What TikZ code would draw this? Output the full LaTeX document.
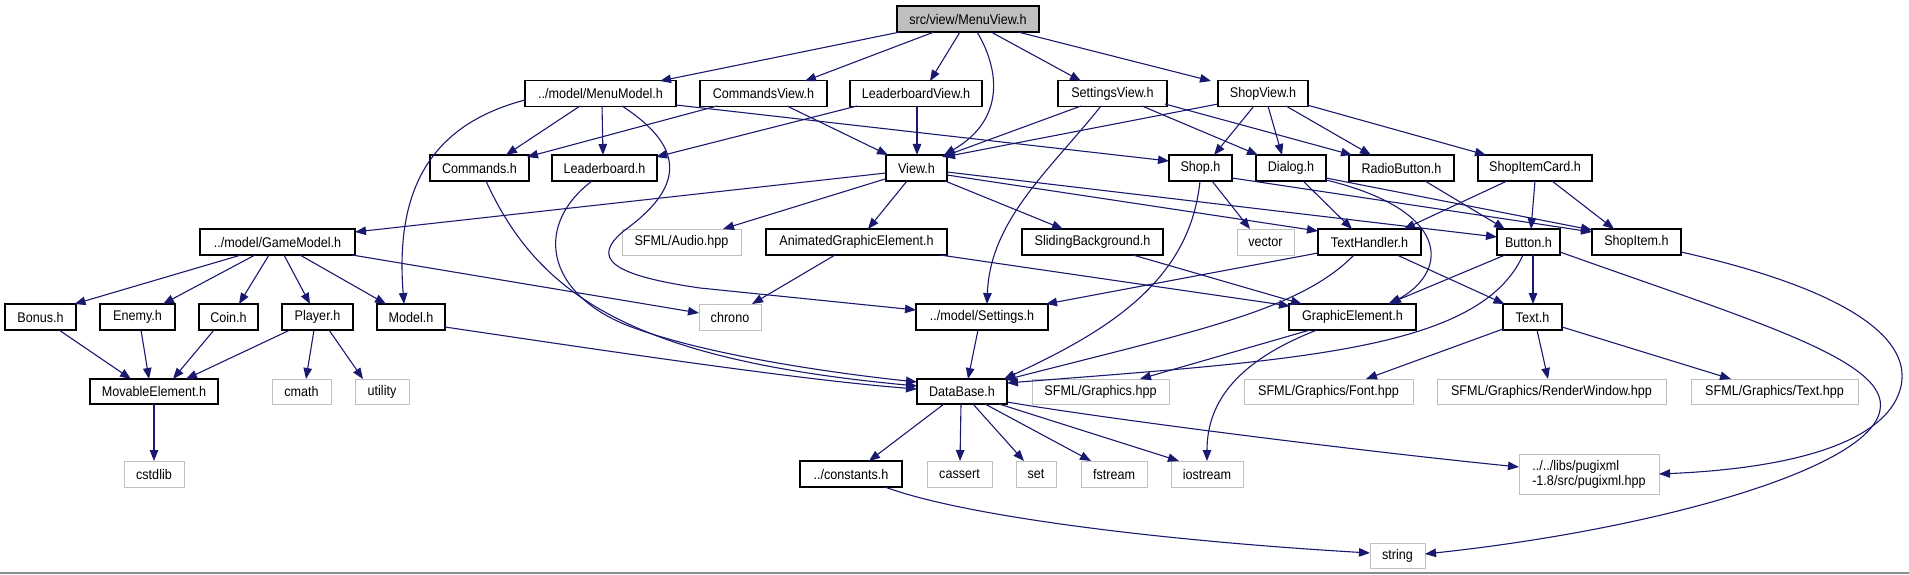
\documentclass[tikz,border=0pt]{standalone}
\usepackage{fontspec}
\setmainfont{Liberation Sans}[FakeStretch=0.9]
\usetikzlibrary{arrows.meta,calc}
\definecolor{edgec}{HTML}{191970}
\definecolor{grayb}{HTML}{BFBFBF}
\definecolor{botc}{HTML}{8C8C8C}
\begin{document}
\begin{tikzpicture}[x=1pt,y=-1pt,
  bx/.style={draw=black, line width=1.2pt, fill=white, minimum height=26pt, inner sep=0pt, font=\fontsize{14}{15}\selectfont},
  gx/.style={bx, draw=grayb, line width=1pt},
  e/.style={draw=edgec, line width=1.1pt, -{Triangle[length=11pt,width=8.5pt]}}]
\useasboundingbox (0,0) rectangle (1909,575);
\draw[line width=1.5pt, botc] (0,573) -- (1909,573);
% nodes
\node[bx,fill=grayb,minimum width=142pt] (MenuView) at (968,19) {src/view/MenuView.h};
\node[bx,minimum width=151pt] (MenuModel) at (600.5,93.5) {../model/MenuModel.h};
\node[bx,minimum width=127pt] (CommandsView) at (763.5,93.5) {CommandsView.h};
\node[bx,minimum width=132pt] (LeaderboardView) at (916,93.5) {LeaderboardView.h};
\node[bx,minimum width=109pt] (SettingsView) at (1112.5,93.5) {SettingsView.h};
\node[bx,minimum width=90pt] (ShopView) at (1263,93.5) {ShopView.h};
\node[bx,minimum width=99pt] (Commands) at (479.5,168) {Commands.h};
\node[bx,minimum width=105pt] (Leaderboard) at (604.5,168) {Leaderboard.h};
\node[bx,minimum width=61pt] (View) at (916.5,168) {View.h};
\node[bx,minimum width=63pt] (Shop) at (1200.5,168) {Shop.h};
\node[bx,minimum width=70pt] (Dialog) at (1291,168) {Dialog.h};
\node[bx,minimum width=105pt] (RadioButton) at (1401.5,168) {RadioButton.h};
\node[bx,minimum width=114pt] (ShopItemCard) at (1535,168) {ShopItemCard.h};
\node[bx,minimum width=155pt] (GameModel) at (277.5,242) {../model/GameModel.h};
\node[gx,minimum width=119pt] (Audio) at (681.5,242) {SFML/Audio.hpp};
\node[bx,minimum width=181pt] (AGE) at (856.5,242) {AnimatedGraphicElement.h};
\node[bx,minimum width=141pt] (Sliding) at (1092.5,242) {SlidingBackground.h};
\node[gx,minimum width=57pt] (vector) at (1265.5,242) {vector};
\node[bx,minimum width=103pt] (TextHandler) at (1369.5,242) {TextHandler.h};
\node[bx,minimum width=63pt] (Button) at (1528.5,242) {Button.h};
\node[bx,minimum width=89pt] (ShopItem) at (1636.5,242) {ShopItem.h};
\node[bx,minimum width=71pt] (Bonus) at (40.5,317) {Bonus.h};
\node[bx,minimum width=75pt] (Enemy) at (137.5,317) {Enemy.h};
\node[bx,minimum width=59pt] (Coin) at (228.5,317) {Coin.h};
\node[bx,minimum width=71pt] (Player) at (317.5,317) {Player.h};
\node[bx,minimum width=68pt] (Model) at (411,317) {Model.h};
\node[gx,minimum width=62pt] (chrono) at (730,317) {chrono};
\node[bx,minimum width=132pt] (Settings) at (982,317) {../model/Settings.h};
\node[bx,minimum width=127pt] (GraphicElement) at (1352.5,317) {GraphicElement.h};
\node[bx,minimum width=59pt] (Text) at (1532.5,317) {Text.h};
\node[bx,minimum width=128pt,minimum height=25pt] (Movable) at (154,391.5) {MovableElement.h};
\node[gx,minimum width=59pt,minimum height=25pt] (cmath) at (301.5,391.5) {cmath};
\node[gx,minimum width=54pt,minimum height=25pt] (utility) at (382,391.5) {utility};
\node[bx,minimum width=90pt,minimum height=25pt] (DataBase) at (962,391.5) {DataBase.h};
\node[gx,minimum width=137pt,minimum height=25pt] (SFMLGraphics) at (1100.5,391.5) {SFML/Graphics.hpp};
\node[gx,minimum width=169pt,minimum height=25pt] (Font) at (1328.5,391.5) {SFML/Graphics/Font.hpp};
\node[gx,minimum width=229pt,minimum height=25pt] (RenderWindow) at (1551.5,391.5) {SFML/Graphics/RenderWindow.hpp};
\node[gx,minimum width=167pt,minimum height=25pt] (TextHpp) at (1774.5,391.5) {SFML/Graphics/Text.hpp};
\node[gx,minimum width=60pt] (cstdlib) at (154,474) {cstdlib};
\node[bx,minimum width=102pt] (constants) at (851,474) {../constants.h};
\node[gx,minimum width=65pt] (cassert) at (959.5,474) {cassert};
\node[gx,minimum width=40pt] (nset) at (1036,474) {set};
\node[gx,minimum width=66pt] (fstream) at (1114,474) {fstream};
\node[gx,minimum width=72pt] (iostream) at (1207,474) {iostream};
\node[gx,minimum width=140pt,minimum height=40pt,align=left] (pugixml) at (1589,474) {../../libs/pugixml\\-1.8/src/pugixml.hpp};
\node[gx,minimum width=55pt,minimum height=25pt] (string) at (1397.5,555.5) {string};
% edges from MenuView
\draw[e] ($(MenuView)+(-68,13)$) -- ($(MenuModel)+(59.5,-12.5)$);
\draw[e] ($(MenuView)+(-34,13)$) -- ($(CommandsView)+(41.5,-12.5)$);
\draw[e] ($(MenuView)+(-8,13)$) -- ($(LeaderboardView)+(14,-12.5)$);
\draw[e] ($(MenuView)+(9,13)$) .. controls (1000,70) and (1005,120) .. ($(View)+(27.5,-13)$);
\draw[e] ($(MenuView)+(23,13)$) -- ($(SettingsView)+(-31.5,-12.5)$);
\draw[e] ($(MenuView)+(50,13)$) -- ($(ShopView)+(-52,-12.5)$);
% MenuModel
\draw[e] ($(MenuModel)+(-20.5,12.5)$) -- ($(Commands)+(26.5,-13)$);
\draw[e] ($(MenuModel)+(1.5,12.5)$) -- ($(Leaderboard)+(-1.5,-13)$);
\draw[e] ($(MenuModel)+(-75.5,6.5)$) .. controls (430,125) and (395,190) .. ($(Model)+(-7,-13)$);
\draw[e] ($(MenuModel)+(21.5,12.5)$) .. controls (690,150) and (680,190) .. (625,230) .. controls (590,258) and (610,275) .. (700,288) -- ($(Settings)+(-66,-7)$);
\draw[e] ($(MenuModel)+(75.5,11.5)$) -- ($(Shop)+(-31.5,-7)$);
% CommandsView, LeaderboardView
\draw[e] ($(CommandsView)+(-46.5,12.5)$) -- ($(Commands)+(47.5,-11)$);
\draw[e] ($(CommandsView)+(23.5,12.5)$) -- ($(View)+(-28.5,-13)$);
\draw[e] ($(LeaderboardView)+(-59,12.5)$) -- ($(Leaderboard)+(51.5,-11)$);
\draw[e] ($(LeaderboardView)+(1,12.5)$) -- ($(View)+(0.5,-13)$);
% SettingsView
\draw[e] ($(SettingsView)+(-31.5,12.5)$) -- ($(View)+(25.5,-11)$);
\draw[e] ($(SettingsView)+(-11.5,12.5)$) .. controls (1050,170) and (990,220) .. ($(Settings)+(5,-13)$);
\draw[e] ($(SettingsView)+(29.5,12.5)$) -- ($(Dialog)+(-33,-13)$);
\draw[e] ($(SettingsView)+(52.5,10.5)$) -- ($(RadioButton)+(-49.5,-13)$);
% ShopView
\draw[e] ($(ShopView)+(-45,10.5)$) -- ($(View)+(27.5,-11)$);
\draw[e] ($(ShopView)+(-9,12.5)$) -- ($(Shop)+(13.5,-13)$);
\draw[e] ($(ShopView)+(5,12.5)$) -- ($(Dialog)+(-9,-13)$);
\draw[e] ($(ShopView)+(23,12.5)$) -- ($(RadioButton)+(-30.5,-13)$);
\draw[e] ($(ShopView)+(44,11.5)$) -- ($(ShopItemCard)+(-49,-13)$);
% to DataBase from left
\draw[e] ($(Commands)+(6.5,13)$) .. controls (540,300) and (640,360) .. ($(DataBase)+(-45,-5.5)$);
\draw[e] ($(Leaderboard)+(-12.5,13)$) .. controls (530,228) and (548,300) .. (640,330) .. controls (720,358) and (850,375) .. ($(DataBase)+(-45,-9.5)$);
\draw[e] ($(Model)+(34,10)$) .. controls (600,350) and (800,380) .. ($(DataBase)+(-45,-2.5)$);
% View.h
\draw[e] ($(View)+(-30.5,5)$) -- ($(GameModel)+(77.5,-10)$);
\draw[e] ($(View)+(-31.5,11)$) -- ($(Audio)+(41.5,-13)$);
\draw[e] ($(View)+(-9.5,13)$) -- ($(AGE)+(11.5,-13)$);
\draw[e] ($(View)+(28.5,13)$) -- ($(Sliding)+(-29.5,-13)$);
\draw[e] ($(View)+(30.5,7)$) -- ($(TextHandler)+(-51.5,-11)$);
\draw[e] ($(View)+(30.5,4)$) -- ($(Button)+(-31.5,-5)$);
% Shop.h
\draw[e] ($(Shop)+(11.5,13)$) -- ($(vector)+(-15.5,-13)$);
\draw[e] ($(Shop)+(-0.5,13)$) .. controls (1190,280) and (1110,330) .. ($(DataBase)+(42,-12.5)$);
\draw[e] ($(Shop)+(31.5,10)$) -- ($(ShopItem)+(-44.5,-10)$);
% Dialog
\draw[e] ($(Dialog)+(12,13)$) -- ($(TextHandler)+(-17.5,-13)$);
\draw[e] ($(Dialog)+(35,12)$) .. controls (1450,210) and (1450,270) .. ($(GraphicElement)+(37.5,-13)$);
\draw[e] ($(Dialog)+(35,10)$) -- ($(ShopItem)+(-44.5,-12)$);
% RadioButton, ShopItemCard
\draw[e] ($(RadioButton)+(23.5,13)$) -- ($(Button)+(-23.5,-13)$);
\draw[e] ($(ShopItemCard)+(-28,13)$) -- ($(TextHandler)+(34.5,-13)$);
\draw[e] ($(ShopItemCard)+(0,13)$) -- ($(Button)+(2.5,-13)$);
\draw[e] ($(ShopItemCard)+(17,13)$) -- ($(ShopItem)+(-22.5,-13)$);
% GameModel
\draw[e] ($(GameModel)+(-36.5,13)$) -- ($(Bonus)+(34,-13)$);
\draw[e] ($(GameModel)+(-22.5,13)$) -- ($(Enemy)+(25.5,-13)$);
\draw[e] ($(GameModel)+(-8.5,13)$) -- ($(Coin)+(10.5,-13)$);
\draw[e] ($(GameModel)+(6.5,13)$) -- ($(Player)+(-7.5,-13)$);
\draw[e] ($(GameModel)+(22.5,13)$) -- ($(Model)+(-25,-13)$);
\draw[e] ($(GameModel)+(74.5,13)$) -- ($(chrono)+(-31,-4)$);
% AGE, Sliding
\draw[e] ($(AGE)+(-21.5,13)$) -- ($(chrono)+(22,-13)$);
\draw[e] ($(AGE)+(83.5,13)$) -- ($(GraphicElement)+(-62.5,-11)$);
\draw[e] ($(Sliding)+(40.5,13)$) -- ($(GraphicElement)+(-50.5,-13)$);
% TextHandler
\draw[e] ($(TextHandler)+(-51.5,11)$) -- ($(Settings)+(64,-13)$);
\draw[e] ($(TextHandler)+(-15.5,13)$) .. controls (1300,310) and (1200,330) .. ($(DataBase)+(43,-11.5)$);
\draw[e] ($(TextHandler)+(27.5,13)$) -- ($(Text)+(-28,-13)$);
% Button
\draw[e] ($(Button)+(-23.5,13)$) -- ($(GraphicElement)+(35.5,-13)$);
\draw[e] ($(Button)+(-5.5,13)$) .. controls (1480,350) and (1300,360) .. ($(DataBase)+(45,-8.5)$);
\draw[e] ($(Button)+(4.5,13)$) -- ($(Text)+(0.5,-13)$);
\draw[e] ($(Button)+(31.5,10)$) .. controls (1750,320) and (1890,360) .. (1880,410) .. controls (1870,470) and (1650,530) .. ($(string)+(27.5,-1.5)$);
% ShopItem
\draw[e] ($(ShopItem)+(44.5,10)$) .. controls (1850,290) and (1915,340) .. (1900,390) .. controls (1885,440) and (1800,468) .. ($(pugixml)+(70,0)$);
% GraphicElement
\draw[e] ($(GraphicElement)+(-42.5,13)$) -- ($(SFMLGraphics)+(39.5,-12.5)$);
\draw[e] ($(GraphicElement)+(-35.5,13)$) .. controls (1240,360) and (1207,400) .. ($(iostream)+(0,-13)$);
% Text.h
\draw[e] ($(Text)+(-29.5,12)$) -- ($(Font)+(37.5,-12.5)$);
\draw[e] ($(Text)+(4.5,13)$) -- ($(RenderWindow)+(-3.5,-12.5)$);
\draw[e] ($(Text)+(29.5,10)$) -- ($(TextHpp)+(-43.5,-12.5)$);
% Settings
\draw[e] ($(Settings)+(-4,13)$) -- ($(DataBase)+(6,-12.5)$);
% Movable group
\draw[e] ($(Bonus)+(18.5,13)$) -- ($(Movable)+(-23,-12.5)$);
\draw[e] ($(Enemy)+(3.5,13)$) -- ($(Movable)+(-5,-12.5)$);
\draw[e] ($(Coin)+(-14.5,13)$) -- ($(Movable)+(19,-12.5)$);
\draw[e] ($(Player)+(-27.5,13)$) -- ($(Movable)+(32,-12.5)$);
\draw[e] ($(Player)+(-3.5,13)$) -- ($(cmath)+(4.5,-12.5)$);
\draw[e] ($(Player)+(11.5,13)$) -- ($(utility)+(-19,-12.5)$);
\draw[e] ($(Movable)+(0,12.5)$) -- ($(cstdlib)+(0,-13)$);
% DataBase
\draw[e] ($(DataBase)+(-18,12.5)$) -- ($(constants)+(18,-13)$);
\draw[e] ($(DataBase)+(-1,12.5)$) -- ($(cassert)+(0.5,-13)$);
\draw[e] ($(DataBase)+(11,12.5)$) -- ($(nset)+(-12,-13)$);
\draw[e] ($(DataBase)+(23,12.5)$) -- ($(fstream)+(-23,-13)$);
\draw[e] ($(DataBase)+(37,12.5)$) -- ($(iostream)+(-28,-13)$);
\draw[e] ($(DataBase)+(45,10.5)$) .. controls (1100,418) and (1350,450) .. ($(pugixml)+(-70,-7)$);
% constants
\draw[e] ($(constants)+(34,13)$) .. controls (960,515) and (1150,540) .. ($(string)+(-27.5,-2.5)$);
\end{tikzpicture}
\end{document}
